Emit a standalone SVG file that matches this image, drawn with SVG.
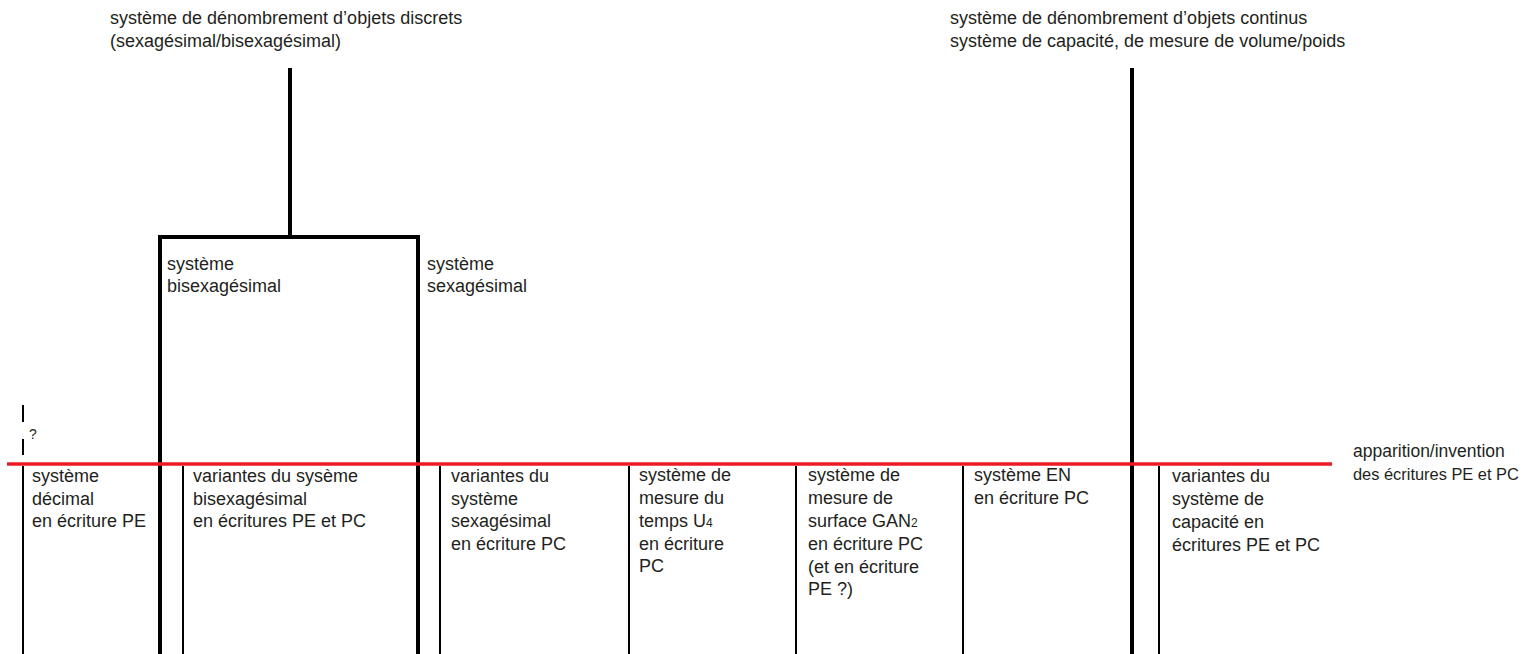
<svg xmlns="http://www.w3.org/2000/svg" width="1528" height="654" viewBox="0 0 1528 654">
<style>
text{font-family:"Liberation Sans",Arial,sans-serif;font-size:18px;fill:#231f20}
.thick{stroke:#000;stroke-width:4;fill:none}
.thin{stroke:#000;stroke-width:2;fill:none}
.red{stroke:#ec1c24;stroke-width:3.5;fill:none}
.sub{font-size:12px}
</style>
<rect width="1528" height="654" fill="#fff"/>
<g id="connectors">
<line class="thick" x1="290" y1="68" x2="290" y2="237"/>
<polyline class="thick" points="160,654 160,237 418,237 418,654"/>
<line class="thick" x1="1132" y1="68" x2="1132" y2="654"/>
<line class="thin" x1="23" y1="405" x2="23" y2="422"/>
<line class="thin" x1="23" y1="439" x2="23" y2="455"/>
<line class="thin" x1="23" y1="466" x2="23" y2="654"/>
<line class="thin" x1="183" y1="466" x2="183" y2="654"/>
<line class="thin" x1="440" y1="466" x2="440" y2="654"/>
<line class="thin" x1="629" y1="466" x2="629" y2="654"/>
<line class="thin" x1="796" y1="466" x2="796" y2="654"/>
<line class="thin" x1="963" y1="466" x2="963" y2="654"/>
<line class="thin" x1="1159" y1="466" x2="1159" y2="654"/>
<line class="red" x1="7" y1="464" x2="1332" y2="464"/>
</g>
<g id="discrets">
<text x="110" y="24">système de dénombrement d’objets discrets</text>
<text x="110" y="47">(sexagésimal/bisexagésimal)</text>
</g>
<g id="continus">
<text x="950" y="24">système de dénombrement d’objets continus</text>
<text x="950" y="47">système de capacité, de mesure de volume/poids</text>
</g>
<g id="bisexagesimal">
<text x="167" y="270">système</text>
<text x="167" y="292">bisexagésimal</text>
</g>
<g id="sexagesimal">
<text x="427" y="270">système</text>
<text x="427" y="292">sexagésimal</text>
</g>
<g id="question">
<text x="29" y="439" style="font-size:14px">?</text>
</g>
<g id="apparition">
<text x="1353" y="457" style="font-size:17.5px">apparition/invention</text>
<text x="1353" y="480" style="font-size:16.4px">des écritures PE et PC</text>
</g>
<g id="decimal">
<text x="32" y="482">système</text>
<text x="32" y="505">décimal</text>
<text x="32" y="527">en écriture PE</text>
</g>
<g id="var-bisexa">
<text x="193" y="482">variantes du sysème</text>
<text x="193" y="505">bisexagésimal</text>
<text x="193" y="527">en écritures PE et PC</text>
</g>
<g id="var-sexa">
<text x="451" y="482">variantes du</text>
<text x="451" y="505">système</text>
<text x="451" y="527">sexagésimal</text>
<text x="451" y="550">en écriture PC</text>
</g>
<g id="temps">
<text x="639" y="481">système de</text>
<text x="639" y="504">mesure du</text>
<text x="639" y="527">temps U<tspan class="sub">4</tspan></text>
<text x="639" y="550">en écriture</text>
<text x="639" y="572">PC</text>
</g>
<g id="surface">
<text x="808" y="481">système de</text>
<text x="808" y="504">mesure de</text>
<text x="808" y="527">surface GAN<tspan class="sub">2</tspan></text>
<text x="808" y="550">en écriture PC</text>
<text x="808" y="573">(et en écriture</text>
<text x="808" y="595">PE ?)</text>
</g>
<g id="en">
<text x="974" y="481">système EN</text>
<text x="974" y="504">en écriture PC</text>
</g>
<g id="capacite">
<text x="1172" y="482">variantes du</text>
<text x="1172" y="505">système de</text>
<text x="1172" y="528">capacité en</text>
<text x="1172" y="551">écritures PE et PC</text>
</g>
</svg>
